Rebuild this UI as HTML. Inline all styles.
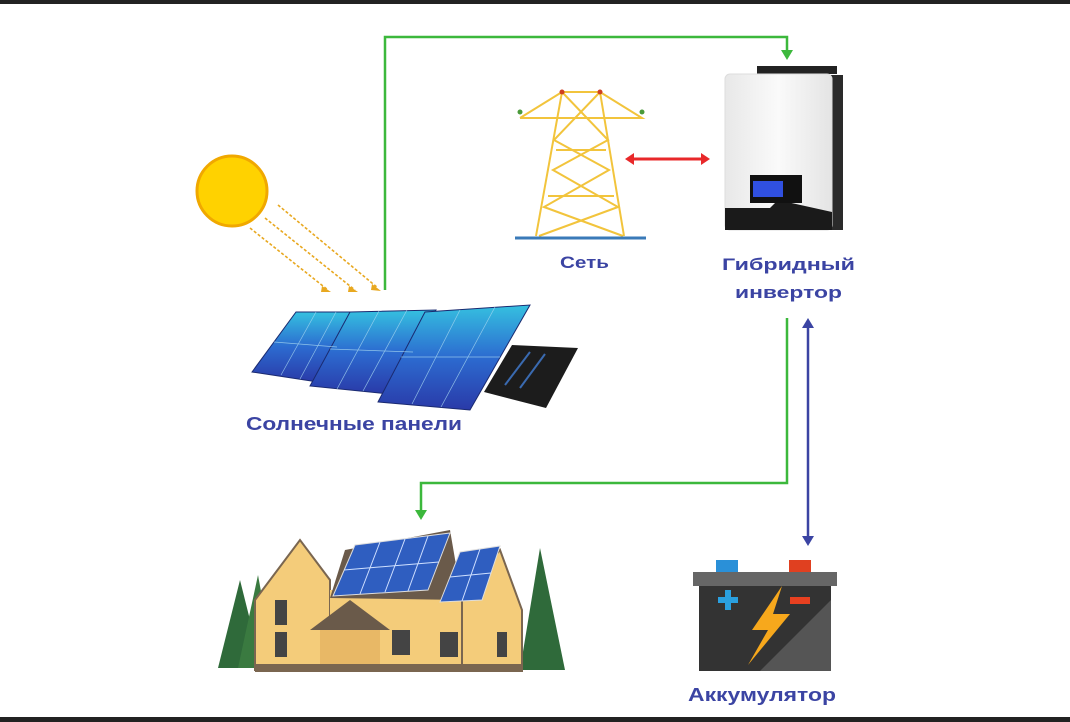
<!DOCTYPE html>
<html><head><meta charset="utf-8"><style>
html,body{margin:0;padding:0;background:#fff}
svg{display:block}
text{font-family:"Liberation Sans","DejaVu Sans",sans-serif;font-weight:bold;fill:#3b44a3}
</style></head><body>
<svg width="1070" height="722" viewBox="0 0 1070 722" xmlns="http://www.w3.org/2000/svg">
<rect x="0" y="0" width="1070" height="4" fill="#222"/>
<rect x="0" y="717" width="1070" height="5" fill="#222"/>
<!-- green lines -->
<polyline points="385,290 385,37 787,37 787,52" fill="none" stroke="#3cb83c" stroke-width="2.5"/>
<polygon points="781,50 793,50 787,60" fill="#3cb83c"/>
<polyline points="787,318 787,483 421,483 421,512" fill="none" stroke="#3cb83c" stroke-width="2.5"/>
<polygon points="415,510 427,510 421,520" fill="#3cb83c"/>
<!-- blue double -->
<line x1="808" y1="326" x2="808" y2="538" stroke="#3b44a3" stroke-width="2.5"/>
<polygon points="802,328 814,328 808,318" fill="#3b44a3"/>
<polygon points="802,536 814,536 808,546" fill="#3b44a3"/>
<!-- red double -->
<line x1="632" y1="159" x2="703" y2="159" stroke="#e8282a" stroke-width="3"/>
<polygon points="634,153 634,165 625,159" fill="#e8282a"/>
<polygon points="701,153 701,165 710,159" fill="#e8282a"/>
<!-- sun -->
<circle cx="232" cy="191" r="35" fill="#ffd200" stroke="#f0a800" stroke-width="3"/>
<g stroke="#e8a820" stroke-width="1.6" stroke-dasharray="3,2" fill="none">
<line x1="278" y1="205" x2="378" y2="288"/>
<line x1="265" y1="218" x2="355" y2="290"/>
<line x1="250" y1="228" x2="328" y2="290"/>
</g>
<polygon points="372,284 381,291 371,290" fill="#e8a820"/>
<polygon points="349,286 358,292 348,292" fill="#e8a820"/>
<polygon points="322,286 331,292 321,292" fill="#e8a820"/>
<!-- panels -->
<defs><linearGradient id="pg" x1="0" y1="0" x2="0" y2="1"><stop offset="0" stop-color="#35c0e0"/><stop offset="0.5" stop-color="#2c6bd0"/><stop offset="1" stop-color="#2a3aa8"/></linearGradient>
<linearGradient id="ig" x1="0" y1="0" x2="1" y2="0"><stop offset="0" stop-color="#e8e8e8"/><stop offset="0.5" stop-color="#fafafa"/><stop offset="1" stop-color="#e4e4e4"/></linearGradient></defs>
<polygon points="252,372 296,312 356,312 318,382" fill="url(#pg)" stroke="#1a2a70"/>
<polygon points="310,386 350,312 436,310 390,394" fill="url(#pg)" stroke="#1a2a70"/>
<polygon points="378,402 425,312 530,305 470,410" fill="url(#pg)" stroke="#1a2a70"/>
<g stroke="#a8d8f0" stroke-width="0.7" opacity="0.8">
<line x1="274" y1="342" x2="337" y2="347"/><line x1="316" y1="312" x2="281" y2="375"/><line x1="336" y1="312" x2="300" y2="379"/>
<line x1="330" y1="349" x2="413" y2="352"/><line x1="379" y1="311" x2="337" y2="389"/><line x1="407" y1="310" x2="363" y2="391"/>
<line x1="401" y1="357" x2="500" y2="357"/><line x1="460" y1="310" x2="412" y2="404"/><line x1="495" y1="307" x2="441" y2="407"/>
</g>
<polygon points="484,392 512,345 578,348 546,408" fill="#1c1c1c"/>
<line x1="505" y1="385" x2="530" y2="352" stroke="#3a6ab0" stroke-width="2"/>
<line x1="520" y1="388" x2="545" y2="354" stroke="#3a6ab0" stroke-width="2"/>
<!-- tower -->
<g stroke="#f2c43c" stroke-width="2" fill="none">
<polyline points="520,118 562,92 600,92 642,118 520,118"/>
<line x1="562" y1="92" x2="536" y2="236"/>
<line x1="600" y1="92" x2="624" y2="236"/>
<polyline points="562,92 608,140 553,170 618,207 539,236"/>
<polyline points="600,92 554,140 609,170 544,207 623,236"/>
<line x1="556" y1="150" x2="606" y2="150"/>
<line x1="548" y1="196" x2="614" y2="196"/>
</g>
<line x1="515" y1="238" x2="646" y2="238" stroke="#3a7ab8" stroke-width="3"/>
<circle cx="562" cy="92" r="2.5" fill="#d04020"/><circle cx="600" cy="92" r="2.5" fill="#d04020"/>
<circle cx="520" cy="112" r="2.5" fill="#4a9a3a"/><circle cx="642" cy="112" r="2.5" fill="#4a9a3a"/>
<text x="560" y="268" font-size="17" textLength="49" lengthAdjust="spacingAndGlyphs">Сеть</text>
<!-- inverter -->
<rect x="757" y="66" width="80" height="8" fill="#222"/>
<rect x="830" y="75" width="13" height="155" fill="#2a2a2a"/>
<rect x="725" y="74" width="107" height="156" rx="5" fill="url(#ig)" stroke="#ddd"/>
<path d="M725,208 L770,208 L778,200 L832,212 L832,230 L725,230Z" fill="#1a1a1a"/>
<rect x="750" y="175" width="52" height="28" fill="#111"/>
<rect x="753" y="181" width="30" height="16" fill="#3050e0"/>
<text x="722" y="270" font-size="17" textLength="133" lengthAdjust="spacingAndGlyphs">Гибридный</text>
<text x="735" y="298" font-size="17" textLength="107" lengthAdjust="spacingAndGlyphs">инвертор</text>
<text x="246" y="430" font-size="18" textLength="216" lengthAdjust="spacingAndGlyphs">Солнечные панели</text>
<!-- house -->
<polygon points="218,668 240,580 262,668" fill="#2f6a3a"/>
<polygon points="238,668 258,575 275,668" fill="#3a7a40"/>
<polygon points="520,670 540,548 565,670" fill="#2f6a3a"/>
<polygon points="255,670 255,600 300,540 330,580 330,670" fill="#f4cc7a" stroke="#7a6650" stroke-width="2"/>
<polygon points="330,670 330,590 480,590 480,670" fill="#f4cc7a"/>
<polygon points="462,670 462,595 500,550 522,610 522,670" fill="#f4cc7a" stroke="#7a6650" stroke-width="2"/>
<polygon points="330,598 345,550 450,530 462,600" fill="#6a5a4a"/>
<polygon points="333,596 355,545 450,533 428,590" fill="#2f5ec0" stroke="#ddd"/>
<polygon points="440,602 460,552 500,546 482,600" fill="#2f5ec0" stroke="#ddd"/>
<g stroke="#cfe0ff" stroke-width="1"><line x1="344" y1="570" x2="439" y2="562"/><line x1="380" y1="542" x2="360" y2="594"/><line x1="405" y1="539" x2="385" y2="592"/><line x1="428" y1="536" x2="408" y2="591"/><line x1="450" y1="577" x2="491" y2="573"/><line x1="480" y1="549" x2="462" y2="601"/></g>
<polygon points="310,630 350,600 390,630" fill="#6a5a4a"/>
<rect x="320" y="630" width="60" height="40" fill="#e8b866"/>
<rect x="255" y="664" width="268" height="8" fill="#7a6650"/>
<rect x="275" y="600" width="12" height="25" fill="#444"/>
<rect x="275" y="632" width="12" height="25" fill="#444"/>
<rect x="392" y="630" width="18" height="25" fill="#444"/>
<rect x="440" y="632" width="18" height="25" fill="#444"/>
<rect x="497" y="632" width="10" height="25" fill="#444"/>
<!-- battery -->
<rect x="716" y="560" width="22" height="14" fill="#2a90d8"/>
<rect x="789" y="560" width="22" height="14" fill="#e04020"/>
<rect x="693" y="572" width="144" height="14" fill="#666"/>
<rect x="699" y="586" width="132" height="85" fill="#333"/>
<polygon points="760,671 831,600 831,671" fill="#555"/>
<rect x="718" y="597" width="20" height="6" fill="#2aa0e0"/><rect x="725" y="590" width="6" height="20" fill="#2aa0e0"/>
<rect x="790" y="597" width="20" height="7" fill="#e84020"/>
<polygon points="782,586 752,630 768,630 748,665 790,614 773,614" fill="#f7a81c"/>
<text x="688" y="701" font-size="18" textLength="148" lengthAdjust="spacingAndGlyphs">Аккумулятор</text>
</svg>
</body></html>
